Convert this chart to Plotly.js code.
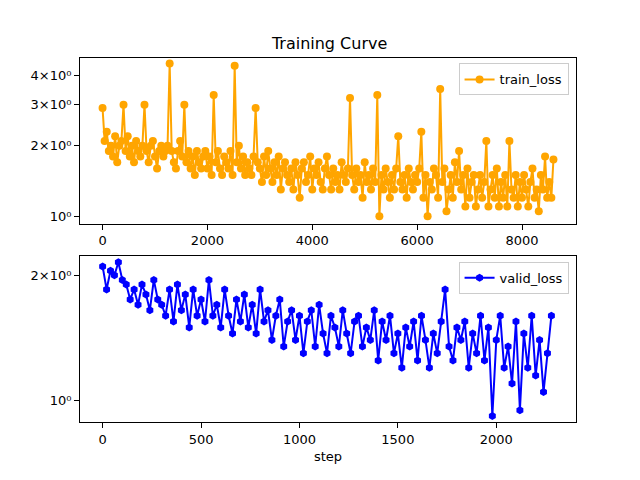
<!DOCTYPE html><html><head><script src="https://cdn.plot.ly/plotly-3.0.1.min.js"></script></head><body style="margin:0"><div id="c" style="width:640px;height:480px"></div><script>
const trainStepSize = 40;
const trainLoss = [
2.9,2.1,2.3,1.9,2.0,1.8,2.2,1.7,2.0,2.1,
3.0,1.9,2.2,1.8,2.0,1.7,2.1,1.9,1.8,2.0,
3.0,1.9,1.7,2.0,2.1,1.8,1.6,1.9,2.0,1.8,
1.9,2.0,4.5,1.9,1.7,1.6,1.9,2.1,1.8,3.0,
1.7,1.9,1.6,1.8,1.5,1.9,1.7,1.6,1.8,1.9,
1.6,1.8,1.5,3.3,1.7,1.9,1.6,1.5,1.8,1.7,
1.6,1.9,1.5,4.4,1.7,2.0,1.6,1.8,1.5,1.7,
1.6,1.5,1.8,2.9,1.7,1.6,1.4,1.8,1.5,1.9,
1.6,1.4,1.7,1.5,1.8,1.3,1.6,1.7,1.5,1.4,
1.6,1.3,1.7,1.5,1.2,1.6,1.7,1.4,1.5,1.8,
1.3,1.6,1.5,1.7,1.4,1.3,1.6,1.8,1.5,1.3,
1.6,1.4,1.5,1.3,1.7,1.5,1.4,1.6,3.2,1.5,
1.3,1.6,1.4,1.5,1.2,1.7,1.4,1.5,1.3,1.6,
1.4,3.3,1.0,1.5,1.3,1.6,1.4,1.2,1.5,1.3,
1.6,2.2,1.4,1.3,1.5,1.2,1.6,1.4,1.3,1.5,
1.4,1.6,2.3,1.2,1.5,1.0,1.4,1.3,1.6,1.5,
1.2,3.5,1.4,1.6,1.05,1.3,1.5,1.2,1.7,1.4,
1.9,1.3,1.5,1.1,1.6,1.2,1.4,1.5,1.1,1.3,
1.5,1.2,1.4,2.1,1.1,1.3,1.5,1.2,1.6,1.1,
1.4,1.2,1.5,1.1,2.1,1.3,1.2,1.5,1.1,1.4,
1.2,1.5,1.3,1.1,1.4,1.6,1.2,1.3,1.05,1.5,
1.3,1.8,1.2,1.4,1.2,1.75];
const validStepSize = 20;
const validLoss = [
2.1,1.85,2.05,2.0,2.15,1.95,1.9,1.75,1.85,1.7,
1.9,1.8,1.65,1.95,1.75,1.7,1.6,1.85,1.55,1.9,
1.65,1.8,1.5,1.85,1.6,1.75,1.55,1.95,1.6,1.7,
1.5,1.85,1.6,1.45,1.75,1.55,1.8,1.5,1.7,1.45,
1.85,1.55,1.65,1.4,1.6,1.75,1.35,1.55,1.65,1.4,
1.6,1.3,1.55,1.65,1.35,1.7,1.45,1.3,1.6,1.5,
1.35,1.65,1.45,1.3,1.55,1.6,1.35,1.5,1.4,1.65,
1.25,1.55,1.4,1.6,1.3,1.45,1.2,1.5,1.35,1.55,
1.25,1.6,1.4,1.2,1.45,1.3,1.55,1.85,1.35,1.25,
1.5,1.4,1.55,1.2,1.45,1.3,1.6,1.25,1.5,0.92,
1.4,1.6,1.2,1.35,1.1,1.55,0.95,1.45,1.2,1.6,
1.15,1.4,1.05,1.3,1.6];
const trainSteps = trainLoss.map((_, i) => i * trainStepSize);
const validSteps = validLoss.map((_, i) => i * validStepSize);
const tf = {family:'DejaVu Sans', size:13, color:'#000'};
const ax = {showgrid:false, zeroline:false, showline:true, mirror:true, linecolor:'#000', linewidth:1, ticks:'outside', ticklen:5, tickcolor:'#000', tickfont:{family:'DejaVu Sans',size:13,color:'#000'}};
Plotly.newPlot('c', [
 {x:trainSteps, y:trainLoss, name:'train_loss', mode:'lines+markers', line:{color:'orange',width:2}, marker:{symbol:'circle',size:8,color:'orange'}, xaxis:'x', yaxis:'y'},
 {x:validSteps, y:validLoss, name:'valid_loss', mode:'lines+markers', line:{color:'blue',width:2}, marker:{symbol:'hexagon',size:8,color:'blue'}, xaxis:'x2', yaxis:'y2', legend:'legend2'}
], {
 width:640, height:480, margin:{l:80,r:64,t:58,b:58}, paper_bgcolor:'#fff', plot_bgcolor:'#fff',
 title:{text:'Training Curve', font:{family:'DejaVu Sans', size:16, color:'#000'}, x:0.515, xanchor:'center', y:0.91, yanchor:'middle'},
 xaxis:Object.assign({}, ax, {domain:[0,1], anchor:'y', range:[-430,9030], tickvals:[0,2000,4000,6000,8000]}),
 yaxis:Object.assign({}, ax, {domain:[0.545,1], anchor:'x', type:'log', range:[Math.log10(0.93),Math.log10(4.75)], tickvals:[1,2,3,4], ticktext:['10⁰','2×10⁰','3×10⁰','4×10⁰']}),
 xaxis2:Object.assign({}, ax, {domain:[0,1], anchor:'y2', range:[-115,2405], tickvals:[0,500,1000,1500,2000], title:{text:'step', font:tf, standoff:6}}),
 yaxis2:Object.assign({}, ax, {domain:[0,0.455], anchor:'x2', type:'log', range:[Math.log10(0.89),Math.log10(2.22)], tickvals:[1,2], ticktext:['10⁰','2×10⁰']}),
 legend:{x:0.985, y:0.985, xanchor:'right', yanchor:'top', bordercolor:'#ccc', borderwidth:1, font:tf},
 legend2:{x:0.985, y:0.44, xanchor:'right', yanchor:'top', bordercolor:'#ccc', borderwidth:1, font:tf},
 showlegend:true
}, {displayModeBar:false});
</script></body></html>
